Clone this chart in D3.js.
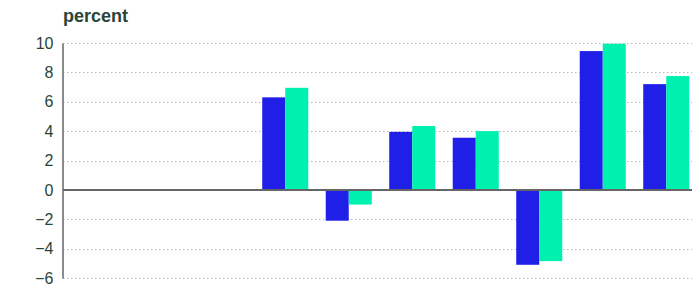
<!DOCTYPE html>
<html>
<head>
<meta charset="utf-8">
<script src="https://cdn.jsdelivr.net/npm/d3@7"></script>
<style>
  body { margin: 0; background: #fff; }
  svg { display: block; font-family: "Liberation Sans", Arial, sans-serif; }
</style>
</head>
<body>
<script>
// Chart data (categories have no visible labels in the reference)
const categories = ["c1", "c2", "c3", "c4", "c5", "c6", "c7", "c8", "c9", "c10"];
const seriesNames = ["series1", "series2"];
const series1 = [null, null, null, 6.3, -2.1, 3.95, 3.55, -5.1, 9.45, 7.2];
const series2 = [null, null, null, 6.95, -1.0, 4.35, 4.0, -4.85, 9.95, 7.75];
const yTicks = [-6, -4, -2, 0, 2, 4, 6, 8, 10];
const yLabel = "percent";

const width = 692, height = 286;
const margin = { top: 43, right: -6, bottom: 8, left: 63 };
const colors = ["#1f1fe8", "#00f0b0"];
const textColor = "#2b4438";

const svg = d3.select("body").append("svg")
  .attr("width", width)
  .attr("height", height);

const x = d3.scaleBand()
  .domain(categories)
  .range([margin.left, width - margin.right])
  .paddingInner(0.275)
  .paddingOuter(0.1375);

const xInner = d3.scaleBand()
  .domain(seriesNames)
  .range([0, x.bandwidth()]);

const y = d3.scaleLinear()
  .domain([-6, 10])
  .range([height - margin.bottom, margin.top]);

// gridlines
svg.append("g")
  .selectAll("line")
  .data(yTicks.filter(d => d !== 0))
  .join("line")
  .attr("x1", margin.left)
  .attr("x2", width)
  .attr("y1", d => Math.round(y(d)) + 0.5)
  .attr("y2", d => Math.round(y(d)) + 0.5)
  .attr("stroke", "#bbb")
  .attr("stroke-dasharray", "1.5,2.5");

// bars
const rows = categories.map((c, i) => ({ c, values: [series1[i], series2[i]] }));
svg.append("g")
  .selectAll("g")
  .data(rows)
  .join("g")
  .attr("transform", d => `translate(${x(d.c)},0)`)
  .selectAll("rect")
  .data(d => d.values.map((v, k) => ({ k, v })).filter(e => e.v !== null))
  .join("rect")
  .attr("x", e => xInner(seriesNames[e.k]))
  .attr("width", xInner.bandwidth())
  .attr("y", e => y(Math.max(0, e.v)))
  .attr("height", e => Math.abs(y(e.v) - y(0)))
  .attr("fill", e => colors[e.k]);

// zero line
svg.append("line")
  .attr("x1", margin.left)
  .attr("x2", width)
  .attr("y1", y(0))
  .attr("y2", y(0))
  .attr("stroke", "#666")
  .attr("stroke-width", 2);

// y axis
svg.append("g")
  .attr("transform", `translate(${margin.left - 0.5},0)`)
  .call(d3.axisLeft(y).tickValues(yTicks).tickSize(0).tickPadding(9))
  .call(g => g.select(".domain").attr("stroke", "#666").attr("stroke-width", 1.5))
  .call(g => g.selectAll("text")
    .attr("fill", textColor)
    .attr("font-size", 16)
    .attr("font-family", "'Liberation Sans', Arial, sans-serif"));

// axis title
svg.append("text")
  .attr("x", 63)
  .attr("y", 22)
  .attr("fill", textColor)
  .attr("font-size", 18)
  .attr("font-weight", "bold")
  .text(yLabel);
</script>
</body>
</html>
